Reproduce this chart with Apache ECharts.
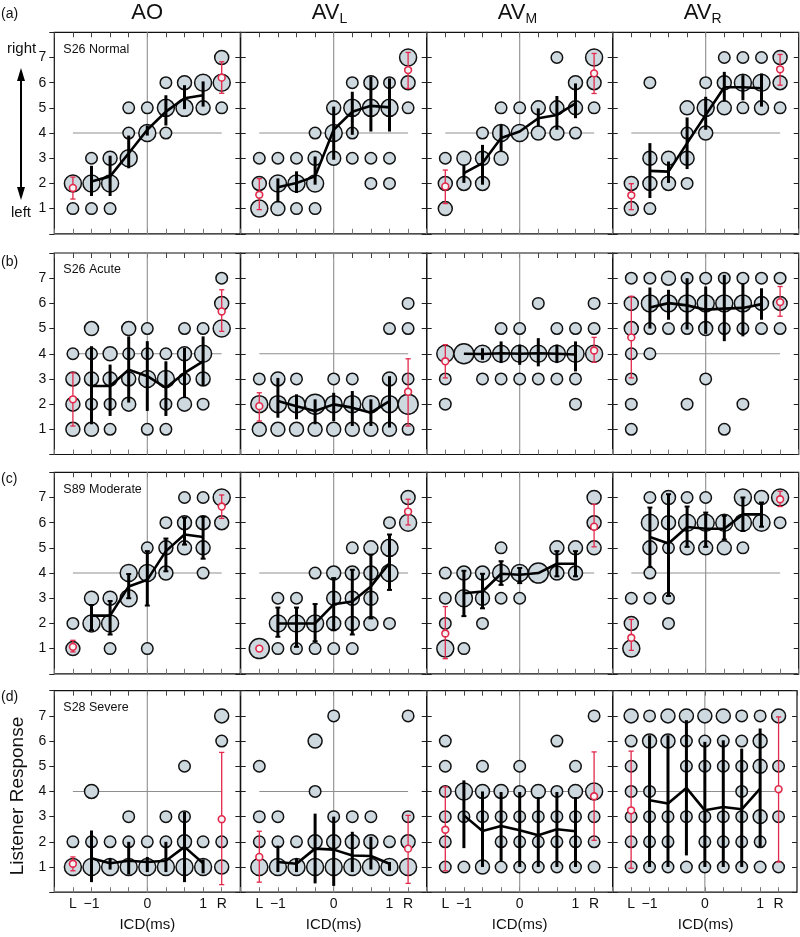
<!DOCTYPE html>
<html><head><meta charset="utf-8">
<script src="https://cdn.jsdelivr.net/npm/echarts@6/dist/echarts.min.js"></script>
<style>html,body{margin:0;padding:0;background:#fff}#c{width:800px;height:937px}</style>
</head><body><div id="c"></div>
<script>
// x index: 0=L, 1..7 = ICD -1 .. 1 (steps of 1/3), 8=R
const X_TICK_TEXT = {0:'L', 1:'\u22121', 4:'0', 7:'1', 8:'R'};
const Y_TICKS = [1,2,3,4,5,6,7];
const COL_TITLES = ['AO','AV','AV','AV'];
const COL_SUBS = ['', 'L', 'M', 'R'];
const ROW_TAGS = ['(a)','(b)','(c)','(d)'];
const ROW_LABELS = ['S26 Normal','S26 Acute','S89 Moderate','S28 Severe'];
const GUIDE_X = 4, GUIDE_Y = 4, X_L = 0, X_R = 8;

// bubbles: per x index, list of [response, countClass]
const bub_a1 = [[[2,3],[1,1]],[[3,1],[2,3],[1,1]],[[3,2],[2,3],[1,1]],[[5,1],[4,1],[3,3]],[[5,1],[4,3]],[[6,1],[5,3],[4,1]],[[6,2],[5,3]],[[6,3],[5,2]],[[7,2],[6,3],[5,1]]];
const mean_a1 = [2.08,2.28,3.2,4.13,4.85,5.38,5.5];
const bars_a1 = [[1.5,2.7],[1.5,3.1],[2.6,3.9],[3.9,4.3],[4.3,5.5],[4.95,5.9],[5.05,6.05]];
const red_a1 = [[1.82,1.38,2.25],[6.2,5.58,6.83]];

const bub_a2 = [[[3,1],[2,2],[1,3]],[[3,1],[2,3],[1,2]],[[3,1],[2,3],[1,1]],[[4,1],[3,2],[2,3],[1,1]],[[5,2],[4,3],[3,2]],[[6,1],[5,3],[4,1],[3,1]],[[6,2],[5,3],[3,1],[2,1]],[[6,1],[5,3],[3,1],[2,1]],[[7,3],[6,2],[5,1]]];
const mean_a2 = [1.85,2.02,2.28,4.13,4.85,5.08,5.02];
const bars_a2 = [[1.25,2.2],[1.62,2.48],[1.95,3.07],[2.94,5.05],[3.93,5.64],[4.06,6.24],[4.06,6.17]];
const red_a2 = [[1.55,0.96,2.19],[6.5,5.77,7.2]];

const bub_a3 = [[[3,1],[2,2],[1,2]],[[3,2],[2,2]],[[4,1],[3,2],[2,2]],[[5,1],[4,3],[3,2]],[[5,1],[4,3]],[[5,2],[4,2]],[[7,1],[5,2],[4,2]],[[6,2],[5,2],[4,1]],[[7,3],[6,2],[5,1]]];
const mean_a3 = [2.41,2.81,3.8,4.06,4.59,4.72,5.18];
const bars_a3 = [[2.02,2.74],[1.95,3.53],[3.27,4.32],null,[4.26,4.98],[4.13,5.47],[4.59,5.97]];
const red_a3 = [[1.88,1.2,2.53],[6.37,5.57,7.16]];

const bub_a4 = [[[2,2],[1,2]],[[6,1],[3,2],[2,2],[1,1]],[[3,2],[2,2]],[[5,2],[4,1],[3,2],[2,1]],[[6,1],[5,3],[4,2]],[[7,1],[6,2],[5,2]],[[7,1],[6,3],[5,1]],[[7,1],[6,3],[5,2]],[[7,2],[6,2],[5,1]]];
const mean_a4 = [2.5,2.47,3.6,4.72,5.82,5.82,5.78];
const bars_a4 = [[1.42,3.6],[2.02,2.87],[2.57,4.62],[4.13,5.44],[5.25,6.43],[5.3,6.3],[5.05,6.36]];
const red_a4 = [[1.53,0.96,1.99],[6.53,5.9,7.12]];

const bub_b1 = [[[4,1],[3,2],[2,2],[1,2]],[[5,2],[4,1],[3,2],[2,1],[1,2]],[[4,2],[3,2],[2,1],[1,1]],[[5,2],[4,1],[3,2],[2,2]],[[5,1],[4,1],[3,3],[1,1]],[[4,1],[3,3],[2,1],[1,1]],[[5,1],[4,2],[3,1],[2,2]],[[5,1],[4,3],[3,2],[2,1]],[[7,1],[6,2],[5,3]]];
const mean_b1 = [2.72,2.72,3.37,3.11,2.65,3.24,3.7];
const bars_b1 = [[1.2,4.3],[1.53,3.57],[2.06,4.69],[1.73,4.5],[1.53,3.7],[2.25,4.23],[2.72,4.69]];
const red_b1 = [[2.19,1.13,3.24],[5.68,4.89,6.54]];

const bub_b2 = [[[3,1],[2,3],[1,2]],[[3,2],[2,3],[1,2]],[[3,1],[2,3],[1,2]],[[2,4],[1,2]],[[3,1],[2,3],[1,2]],[[3,1],[2,3],[1,2]],[[2,3],[1,2]],[[5,1],[3,2],[2,3],[1,2]],[[6,1],[5,1],[3,1],[2,4],[1,1]]];
const mean_b2 = [2.12,1.92,1.73,1.99,1.86,1.66,2.12];
const bars_b2 = [[1.46,3.04],[1.4,2.39],[1.2,2.19],[1.33,2.45],[1.13,2.52],[1.13,2.19],[1.07,3.11]];
const red_b2 = [[1.92,1.33,2.45],[2.49,1.13,3.8]];

const bub_b3 = [[[4,3],[3,1],[2,1]],[[4,4]],[[4,3],[3,1]],[[5,1],[4,3],[3,1]],[[5,1],[4,3],[3,1]],[[6,1],[4,3],[3,1]],[[5,1],[4,3],[3,1]],[[5,1],[4,3],[3,1],[2,1]],[[6,1],[5,1],[4,3]]];
const mean_b3 = [4.0,3.99,4.02,4.0,4.02,4.0,3.97];
const bars_b3 = [null,[3.76,4.22],[3.63,4.49],[3.56,4.36],[3.5,4.62],[3.63,4.36],[3.3,4.49]];
const red_b3 = [[3.7,3.04,4.36],[4.13,3.66,4.65]];

const bub_b4 = [[[7,1],[6,2],[5,2],[4,1],[3,1],[2,1],[1,1]],[[7,1],[6,3],[5,1],[4,1]],[[7,2],[6,3],[5,1]],[[7,1],[6,3],[5,1],[2,1]],[[7,1],[6,3],[5,2],[3,1]],[[7,1],[6,3],[5,1],[1,1]],[[7,1],[6,3],[5,1],[2,1]],[[7,1],[6,2],[5,1]],[[7,1],[6,2],[5,1]]];
const mean_b4 = [5.84,6.01,5.92,5.75,5.79,5.82,5.97];
const bars_b4 = [[5.0,6.63],[5.35,6.54],[4.96,7.0],[4.79,6.67],[4.5,7.13],[4.69,6.8],[5.35,6.6]];
const red_b4 = [[4.65,3.04,6.28],[6.05,5.49,6.67]];

const bub_c1 = [[[2,1],[1,2]],[[3,2],[2,3]],[[3,2],[2,3],[1,1]],[[4,3],[3,3]],[[5,1],[4,3],[1,1]],[[6,1],[5,2],[4,2]],[[7,1],[6,2],[5,2]],[[7,1],[6,2],[5,2],[4,1]],[[7,3],[6,2]]];
const mean_c1 = [2.31,2.31,3.47,3.73,4.87,5.53,5.43];
const bars_c1 = [[1.73,2.73],[1.56,2.89],[3.0,3.96],[2.71,4.87],[4.07,5.37],[5.13,6.2],[4.57,6.23]];
const red_c1 = [[1.07,0.87,1.33],[6.64,6.17,7.1]];

const bub_c2 = [[[1,4]],[[3,1],[2,3],[1,1]],[[3,1],[2,3],[1,1]],[[4,1],[2,3],[1,1]],[[4,2],[3,2],[2,2],[1,1]],[[5,1],[4,2],[3,2],[2,2],[1,1]],[[5,2],[4,2],[3,2],[2,2]],[[6,1],[5,3],[4,3],[2,1]],[[7,2],[6,3]]];
const mean_c2 = [2.0,2.0,2.0,2.76,2.87,3.47,4.4];
const bars_c2 = [[1.47,2.63],[1.07,2.63],[1.29,2.77],[1.73,3.8],[1.56,4.13],[2.2,4.73],[3.33,5.53]];
const red_c2 = [[1.0,0.97,1.03],[6.44,5.91,6.93]];

const bub_c3 = [[[4,1],[3,1],[2,1],[1,3]],[[4,2],[3,3],[1,1]],[[4,2],[3,2],[2,1]],[[5,1],[4,3],[3,1]],[[4,3],[3,1]],[[4,4]],[[5,2],[4,2]],[[5,2],[4,2]],[[7,2],[6,2],[5,2]]];
const mean_c3 = [3.2,3.27,3.97,3.93,4.0,4.37,4.37];
const bars_c3 = [[2.29,4.09],[2.6,3.97],[3.53,4.47],[3.6,4.2],null,[3.87,4.87],[3.87,4.87]];
const red_c3 = [[1.6,0.6,2.67],[5.84,5.04,6.73]];

const bub_c4 = [[[3,1],[2,2],[1,3]],[[7,1],[6,3],[5,2],[4,1],[3,1]],[[7,2],[6,2],[5,1],[3,1],[2,1]],[[7,1],[6,3],[5,2]],[[7,1],[6,3],[5,2]],[[6,3],[5,2]],[[7,3],[6,3],[5,1]],[[7,2],[6,3]],[[7,3],[6,1]]];
const mean_c4 = [5.43,5.17,5.83,5.76,5.76,6.33,6.33];
const bars_c4 = [[4.24,6.6],[3.09,7.13],[5.04,6.64],[5.04,6.4],[5.33,6.27],[5.67,7.0],[5.84,6.8]];
const red_c4 = [[1.43,0.93,2.16],[6.93,6.64,7.25]];

const bub_d1 = [[[2,1],[1,3]],[[4,2],[2,1],[1,3]],[[2,1],[1,3]],[[3,1],[2,1],[1,3]],[[2,1],[1,3]],[[3,1],[2,1],[1,3]],[[5,1],[3,1],[2,2],[1,3]],[[2,1],[1,3]],[[7,2],[6,1],[2,1],[1,2]]];
const mean_d1 = [1.35,1.15,1.25,1.2,1.25,1.8,1.15];
const bars_d1 = [[0.4,2.45],[0.9,1.35],[0.7,2.0],[0.8,1.4],[0.8,2.0],[0.4,3.19],[0.75,1.3]];
const red_d1 = [[1.13,0.85,1.4],[2.9,0.3,5.55]];

const bub_d2 = [[[5,1],[3,1],[2,1],[1,3]],[[3,1],[2,1],[1,3]],[[2,1],[1,3]],[[6,2],[4,1],[2,2],[1,3]],[[7,1],[3,1],[2,2],[1,3]],[[3,1],[2,2],[1,3]],[[3,1],[2,2],[1,3]],[[2,1],[1,3]],[[7,1],[3,1],[2,2],[1,3]]];
const mean_d2 = [1.2,1.13,1.73,1.69,1.46,1.44,1.13];
const bars_d2 = [[0.8,1.85],[0.8,1.33],[0.35,3.12],[0.25,3.0],[0.8,2.4],[0.9,2.2],[0.85,1.2]];
const red_d2 = [[1.4,0.4,2.42],[1.73,0.35,3.05]];

const bub_d3 = [[[6,1],[5,1],[4,1],[3,1],[2,1],[1,1]],[[4,3],[3,1],[1,1]],[[5,1],[4,2],[3,1],[1,2]],[[4,2],[3,1],[2,1],[1,1]],[[5,1],[4,1],[3,1],[2,1],[1,1]],[[4,2],[3,1],[2,1],[1,1]],[[6,1],[4,1],[3,1],[2,1],[1,1]],[[5,1],[4,2],[3,1],[2,1],[1,1]],[[7,1],[4,3],[3,1],[2,1],[1,1]]];
const mean_d3 = [3.05,2.43,2.63,2.46,2.26,2.5,2.42];
const bars_d3 = [[1.75,4.44],[1.0,4.0],[1.2,3.98],[1.0,3.98],[1.0,3.78],[1.0,3.98],[1.0,3.78]];
const red_d3 = [[2.48,0.85,4.18],[3.81,2.06,5.57]];

const bub_d4 = [[[7,2],[6,1],[5,1],[4,1],[3,1],[2,1],[1,1]],[[7,1],[6,2],[4,1],[3,1],[2,1],[1,1]],[[7,2],[6,2],[3,1],[2,1],[1,1]],[[7,2],[6,1],[5,1],[3,1],[1,1]],[[7,2],[6,1],[5,1],[3,1],[2,1],[1,1]],[[7,2],[6,1],[5,1],[3,1],[2,1],[1,1]],[[7,1],[6,1],[5,1],[4,1],[3,1],[2,1],[1,1]],[[7,1],[6,2],[5,2],[3,2],[2,1],[1,1]],[[7,2],[5,1],[3,1],[1,1]]];
const mean_d4 = [3.65,3.52,4.14,3.25,3.38,3.29,4.11];
const bars_d4 = [[1.0,6.23],[1.0,6.23],[1.46,6.83],[1.0,5.97],[1.0,6.03],[1.0,5.7],[1.8,6.5]];
const red_d4 = [[3.25,0.95,5.6],[4.09,1.2,6.96]];

const PANELS = [
  [[bub_a1,mean_a1,bars_a1,red_a1],[bub_a2,mean_a2,bars_a2,red_a2],[bub_a3,mean_a3,bars_a3,red_a3],[bub_a4,mean_a4,bars_a4,red_a4]],
  [[bub_b1,mean_b1,bars_b1,red_b1],[bub_b2,mean_b2,bars_b2,red_b2],[bub_b3,mean_b3,bars_b3,red_b3],[bub_b4,mean_b4,bars_b4,red_b4]],
  [[bub_c1,mean_c1,bars_c1,red_c1],[bub_c2,mean_c2,bars_c2,red_c2],[bub_c3,mean_c3,bars_c3,red_c3],[bub_c4,mean_c4,bars_c4,red_c4]],
  [[bub_d1,mean_d1,bars_d1,red_d1],[bub_d2,mean_d2,bars_d2,red_d2],[bub_d3,mean_d3,bars_d3,red_d3],[bub_d4,mean_d4,bars_d4,red_d4]]
];

// ---------- layout / style ----------
const FONT = "'Liberation Sans', Arial, Helvetica, sans-serif";
const COL_LEFT = [54.3, 240.7, 426.7, 612.7];
const COL_W = 186;
const ROW_TOP = [32.3, 253, 472.3, 690.7];
const ROW_H = 201.5;
const TAG_Y = [14, 262, 479, 697];
const SIZE_PX = [0, 11.5, 14, 17, 20];
const BUB_FILL = '#cdd8df';
const RED = '#e2284b';
const ROW_CAPS = [0, 0, 5, 0];

const chart = echarts.init(document.getElementById('c'), null, {renderer: 'canvas'});
const grids = [], xAxes = [], yAxes = [], series = [];

function guideItem(params, api) {
  const cs = params.coordSys;
  const gx = api.value(0), gy = api.value(1);
  const v = api.coord([gx, gy]);
  const hl = api.coord([X_L, gy]), hr = api.coord([X_R, gy]);
  const st = {stroke: '#8f8f8f', lineWidth: 1.1};
  return {type: 'group', children: [
    {type: 'line', shape: {x1: v[0], y1: cs.y, x2: v[0], y2: cs.y + cs.height}, style: st},
    {type: 'line', shape: {x1: hl[0], y1: hl[1], x2: hr[0], y2: hr[1]}, style: st}
  ]};
}
function barRenderer(capW) {
  return function (params, api) {
    const x = api.value(0), lo = api.value(1), hi = api.value(2);
    const p1 = api.coord([x, lo]), p2 = api.coord([x, hi]);
    const st = {stroke: '#000', lineWidth: 3};
    const ch = [{type: 'line', shape: {x1: p1[0], y1: p1[1], x2: p2[0], y2: p2[1]}, style: st}];
    if (capW) {
      ch.push({type: 'line', shape: {x1: p1[0] - capW / 2, y1: p1[1], x2: p1[0] + capW / 2, y2: p1[1]}, style: {stroke: '#000', lineWidth: 2}});
      ch.push({type: 'line', shape: {x1: p2[0] - capW / 2, y1: p2[1], x2: p2[0] + capW / 2, y2: p2[1]}, style: {stroke: '#000', lineWidth: 2}});
    }
    return {type: 'group', children: ch};
  };
}
function redItem(params, api) {
  const x = api.value(0), m = api.value(1), lo = api.value(2), hi = api.value(3);
  const pm = api.coord([x, m]), p1 = api.coord([x, lo]), p2 = api.coord([x, hi]);
  const st = {stroke: RED, lineWidth: 1.3};
  const cw = 2.6;
  return {type: 'group', children: [
    {type: 'line', shape: {x1: p1[0], y1: p1[1], x2: p2[0], y2: p2[1]}, style: st},
    {type: 'line', shape: {x1: p1[0] - cw, y1: p1[1], x2: p1[0] + cw, y2: p1[1]}, style: st},
    {type: 'line', shape: {x1: p2[0] - cw, y1: p2[1], x2: p2[0] + cw, y2: p2[1]}, style: st},
    {type: 'circle', shape: {cx: pm[0], cy: pm[1], r: 3.4}, style: {fill: '#f4f4f4', stroke: RED, lineWidth: 1.6}}
  ]};
}

PANELS.forEach((row, r) => row.forEach((p, c) => {
  const [bub, mean, bars, red] = p;
  const g = r * 4 + c;
  grids.push({left: COL_LEFT[c], top: ROW_TOP[r], width: COL_W, height: ROW_H, show: true,
    borderColor: '#111', borderWidth: 1.2, backgroundColor: 'rgba(0,0,0,0)'});
  xAxes.push({gridIndex: g, type: 'value', min: -1, max: 9, interval: 1, position: 'bottom',
    axisLine: {show: false, onZero: false}, splitLine: {show: false},
    axisTick: {inside: true, length: 5, lineStyle: {color: '#777', width: 1}},
    axisLabel: {show: r === 3, margin: 5, fontSize: 14, color: '#111', fontFamily: FONT,
      formatter: v => (X_TICK_TEXT[v] !== undefined ? X_TICK_TEXT[v] : '')}});
  xAxes.push({gridIndex: g, type: 'value', min: -1, max: 9, interval: 1, position: 'top',
    axisLine: {show: false, onZero: false}, splitLine: {show: false},
    axisTick: {inside: true, length: 5, lineStyle: {color: '#444', width: 1}},
    axisLabel: {show: false}});
  yAxes.push({gridIndex: g, type: 'value', min: 0, max: 8, interval: 1, position: 'left',
    axisLine: {show: false, onZero: false}, splitLine: {show: false},
    axisTick: {inside: c !== 0, length: 5, lineStyle: {color: '#222', width: 1}},
    axisLabel: {show: c === 0, margin: 8, fontSize: 14, color: '#111', fontFamily: FONT,
      formatter: v => (Y_TICKS.indexOf(v) >= 0 ? String(v) : '')}});
  yAxes.push({gridIndex: g, type: 'value', min: 0, max: 8, interval: 1, position: 'right',
    axisLine: {show: false, onZero: false}, splitLine: {show: false},
    axisTick: {inside: true, length: 5, lineStyle: {color: '#222', width: 1}},
    axisLabel: {show: false}});
  const xa = 2 * g, ya = 2 * g;
  series.push({type: 'custom', xAxisIndex: xa, yAxisIndex: ya, z: 1, silent: true,
    renderItem: guideItem, data: [[GUIDE_X, GUIDE_Y]]});
  const bd = [];
  bub.forEach((col, xi) => col.forEach(([y, s]) => bd.push([xi, y, s])));
  series.push({type: 'scatter', xAxisIndex: xa, yAxisIndex: ya, z: 2, silent: true,
    symbol: 'circle', symbolSize: v => SIZE_PX[v[2]], data: bd,
    itemStyle: {color: BUB_FILL, borderColor: '#111', borderWidth: 1.5, opacity: 1}});
  const bdat = [];
  bars.forEach((b, i) => { if (b) bdat.push([i + 1, b[0], b[1]]); });
  series.push({type: 'custom', xAxisIndex: xa, yAxisIndex: ya, z: 3, silent: true,
    renderItem: barRenderer(ROW_CAPS[r]), data: bdat});
  series.push({type: 'line', xAxisIndex: xa, yAxisIndex: ya, z: 4, silent: true,
    symbol: 'none', data: mean.map((m, i) => [i + 1, m]),
    lineStyle: {color: '#000', width: 2.6}});
  series.push({type: 'custom', xAxisIndex: xa, yAxisIndex: ya, z: 5, silent: true,
    renderItem: redItem, data: [[X_L].concat(red[0]), [X_R].concat(red[1])]});
}));

// ---------- text graphics ----------
const graphics = [];
COL_TITLES.forEach((t, c) => {
  graphics.push({type: 'text', left: COL_LEFT[c] + COL_W / 2 - (COL_SUBS[c] ? 22 : 16), top: 2,
    style: {text: COL_SUBS[c] ? '{a|' + t + '}{s|' + COL_SUBS[c] + '}' : '{a|' + t + '}',
      rich: {a: {fontSize: 22, fontFamily: FONT, fill: '#111', lineHeight: 26},
             s: {fontSize: 14, fontFamily: FONT, fill: '#111', verticalAlign: 'bottom', lineHeight: 14}}}});
});
ROW_TAGS.forEach((t, r) => {
  graphics.push({type: 'text', x: 1, y: TAG_Y[r], style: {text: t, fontSize: 14, fontFamily: FONT, fill: '#111', textVerticalAlign: 'middle'}});
  graphics.push({type: 'text', x: COL_LEFT[0] + 9, y: ROW_TOP[r] + 17, style: {text: ROW_LABELS[r], fontSize: 12.5, fontFamily: FONT, fill: '#111', textVerticalAlign: 'middle'}});
});
graphics.push({type: 'text', x: 7, y: 49, style: {text: 'right', fontSize: 15, fontFamily: FONT, fill: '#111', textVerticalAlign: 'middle'}});
graphics.push({type: 'text', x: 11, y: 213, style: {text: 'left', fontSize: 15, fontFamily: FONT, fill: '#111', textVerticalAlign: 'middle'}});
graphics.push({type: 'line', shape: {x1: 21, y1: 78, x2: 21, y2: 190}, style: {stroke: '#000', lineWidth: 2}});
graphics.push({type: 'polygon', shape: {points: [[21, 68], [17, 81], [25, 81]]}, style: {fill: '#000'}});
graphics.push({type: 'polygon', shape: {points: [[21, 200], [17, 187], [25, 187]]}, style: {fill: '#000'}});
graphics.push({type: 'text', x: 18, y: 796, rotation: Math.PI / 2,
  style: {text: 'Listener Response', fontSize: 19, fontFamily: FONT, fill: '#111', textAlign: 'center', textVerticalAlign: 'middle'}});
COL_LEFT.forEach((l) => {
  graphics.push({type: 'text', x: l + COL_W / 2, y: 925,
    style: {text: 'ICD(ms)', fontSize: 15, fontFamily: "'Liberation Sans Narrow', " + FONT, fill: '#111', textAlign: 'center', textVerticalAlign: 'middle'}});
});

chart.setOption({
  animation: false,
  backgroundColor: '#fff',
  grid: grids, xAxis: xAxes, yAxis: yAxes, series: series,
  graphic: graphics
});
</script></body></html>
